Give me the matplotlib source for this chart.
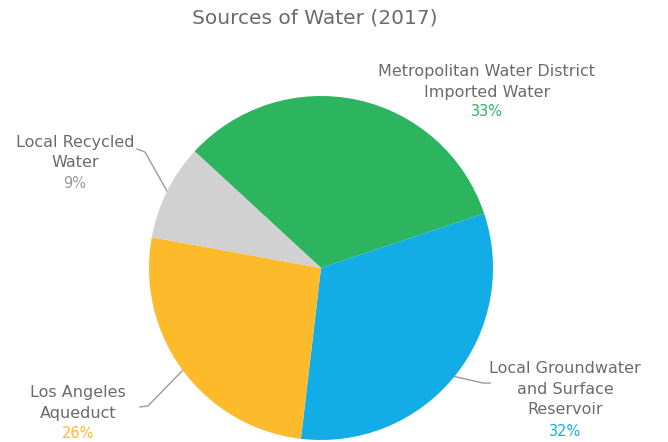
import numpy as np
import matplotlib
matplotlib.use("Agg")
import matplotlib.pyplot as plt

labels = ["Metropolitan Water District\nImported Water",
          "Local Groundwater\nand Surface\nReservoir",
          "Los Angeles\nAqueduct",
          "Local Recycled\nWater"]
values = [33, 32, 26, 9]
colors = ["#2db45f", "#12ade6", "#fdbb2c", "#d1d1d1"]
pct_colors = ["#2db45f", "#12ade6", "#fdbb2c", "#9a9a9a"]
title = "Sources of Water (2017)"

TXT = "#6b6b6b"
fig = plt.figure(figsize=(6.68, 4.42), dpi=100)
ax = fig.add_axes([149/668, 2/442, 344/668, 344/442])
wedges, _ = ax.pie(values, colors=colors, startangle=137.3, counterclock=False,
                   radius=1, wedgeprops=dict(linewidth=0))
ax.set_xlim(-1, 1)
ax.set_ylim(-1, 1)
ax.set_aspect("equal")
ax.axis("off")

# label placements (data units, pie radius = 1): text anchor, elbow, end
place = [
    dict(txt=(0.965, 1.081), pct=(0.965, 0.908), leader=None),
    dict(txt=(1.419, -0.705), pct=(1.419, -0.948), leader=[(0.942, -0.669), (0.983, -0.669)]),
    dict(txt=(-1.413, -0.785), pct=(-1.413, -0.965), leader=[(-1.006, -0.802), (-1.052, -0.808)]),
    dict(txt=(-1.43, 0.67), pct=(-1.43, 0.49), leader=[(-1.023, 0.674), (-1.07, 0.692)]),
]

for w, lab, v, c, p in zip(wedges, labels, values, pct_colors, place):
    ang = np.deg2rad((w.theta1 + w.theta2) / 2)
    ax.text(*p["txt"], lab, ha="center", va="center", fontsize=11.5, color=TXT,
            linespacing=1.45, clip_on=False)
    ax.text(*p["pct"], f"{v}%", ha="center", va="center", fontsize=10.5, color=c,
            clip_on=False)
    if p["leader"]:
        xs = [np.cos(ang)] + [q[0] for q in p["leader"]]
        ys = [np.sin(ang)] + [q[1] for q in p["leader"]]
        ax.plot(xs, ys, color="#9a9a9a", lw=1, clip_on=False, zorder=0)

fig.text(315/668, 1 - 18/442, title, ha="center", va="center", fontsize=14.5,
         color=TXT)
fig.savefig("out.png", dpi=100)
